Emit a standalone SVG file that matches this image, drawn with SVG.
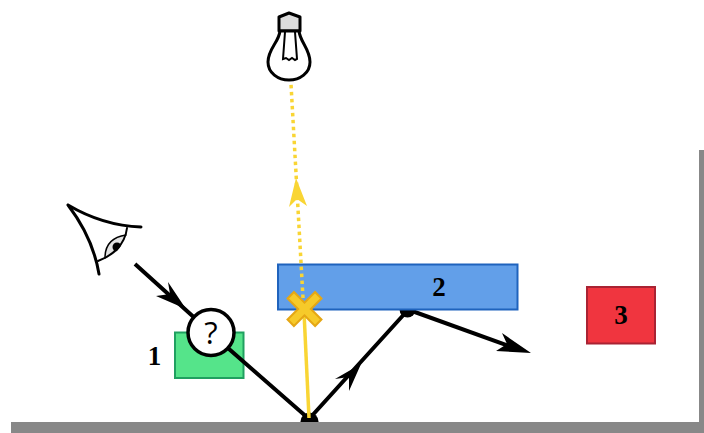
<svg xmlns="http://www.w3.org/2000/svg" width="704" height="433" viewBox="0 0 704 433">
<style>
.lbl{font-family:"Liberation Serif","DejaVu Serif",serif;font-size:27px;font-weight:700;fill:#000;text-anchor:middle}
.ray{fill:none;stroke:#000;stroke-width:4}
.yel{fill:none;stroke:#f9d534;stroke-width:3.500}
.head{fill:#000;stroke:none}
.ink{fill:none;stroke:#000;stroke-linecap:round;stroke-linejoin:round}
</style>
<defs><clipPath id="lens"><path d="M126 235C112 237 105 245 105 258C115 255 122 248 126 235Z"/></clipPath></defs>
<rect width="704" height="433" fill="#fff"/>
<g id="box-1"><rect x="175" y="332.500" width="68.500" height="45.500" fill="#55e48a" stroke="#20a060" stroke-width="2"/><text class="lbl" x="154.500" y="365">1</text></g>
<g id="connectors">
<path class="ray" d="M135 264L229 349L309 419L407 311"/>
<path class="ray" d="M412 311L512 347"/>
<path class="head" d="M186 309L156 296L170 294L168 282Z"/>
<path class="head" d="M361 364L335 379L349 377L349 391Z"/>
<path class="head" d="M531 353L496 351L507 344L502 333Z"/>
<circle class="head" cx="309.500" cy="421.500" r="9"/>
<path class="yel" d="M309 418L304 312"/>
</g>
<g id="room"><path d="M11 422H699V150H704V433H11Z" fill="#888"/></g>
<g id="box-2"><circle class="head" cx="407.500" cy="309.500" r="8"/><rect x="278" y="264.500" width="239.500" height="45" fill="#629fe9" stroke="#1f63bd" stroke-width="2"/><text class="lbl" x="439" y="296">2</text></g>
<g id="box-3"><rect x="587" y="287" width="68" height="56.500" fill="#f0353f" stroke="#a92333" stroke-width="2"/><text class="lbl" x="621" y="324">3</text></g>
<g id="ray-above">
<path class="yel" d="M303 298L291 84" stroke-dasharray="3.500 3.500"/>
<path d="M296 178L289 207L297 199L307 206Z" fill="#f9d534"/>
</g>
<g id="blocked">
<path d="M290 294.500L319 323.500M319 294.500L290 323.500" stroke="#e5a715" stroke-width="11" fill="none"/>
<path d="M291.500 296L317.500 322M317.500 296L291.500 322" stroke="#f6ca2a" stroke-width="7" fill="none"/>
</g>
<g id="query"><circle cx="211" cy="332.500" r="23" fill="#fff" stroke="#000" stroke-width="3.500"/><text x="211" y="344" font-family="'Open Sans','Noto Sans',sans-serif" font-size="31" fill="#000" text-anchor="middle">?</text></g>
<g id="eye">
<path d="M126 235C112 237 105 245 105 258C115 255 122 248 126 235Z" fill="#e2e2e2"/>
<circle cx="117" cy="247" r="4.500" fill="#000" clip-path="url(#lens)"/>
<path class="ink" stroke-width="1.500" d="M126 235C112 237 105 245 105 258"/>
<path class="ink" stroke-width="2" d="M127 228C125 245 112 256 98 261"/>
<path class="ink" stroke-width="3" d="M68 205C90 218 112 226 141 227M68 205C84 226 95 250 99 274"/>
</g>
<g id="bulb">
<path d="M279 31V17L289 13L300 17V31Z" fill="#dcdcdc" stroke="#000" stroke-width="3" stroke-linejoin="round"/>
<path d="M280 31C279 42 268 49 268 62C268 73 278 80 289 80C300 80 310 73 310 62C310 49 300 42 299 31Z" fill="#fff" stroke="#000" stroke-width="3"/>
<path d="M285 32L283 59L286 58L289 60L292 58L295 60L297 59L295 32" fill="none" stroke="#000" stroke-width="2"/>
</g>
</svg>
